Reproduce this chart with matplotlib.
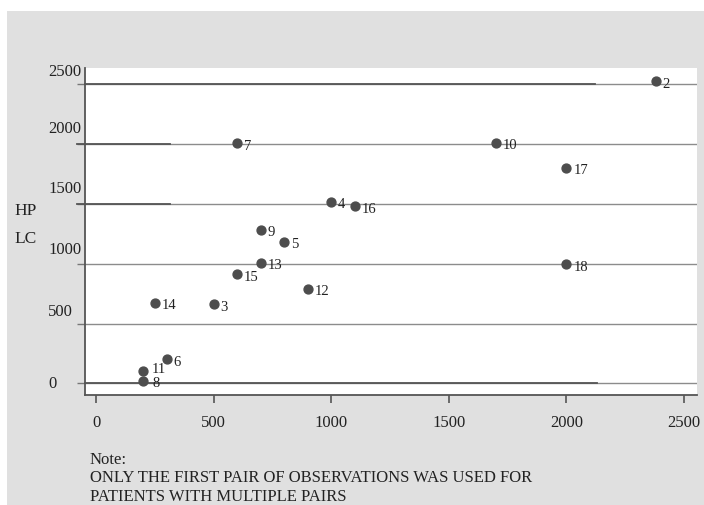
import matplotlib
matplotlib.use("Agg")
import matplotlib.pyplot as plt
import matplotlib.transforms as mtransforms
from matplotlib.patches import Rectangle

# данные: номер пациента, x, y
patients = ["2", "7", "10", "17", "4", "16", "9", "5", "13", "18", "15", "12", "14", "3", "6", "11", "8"]
x_vals = [2380, 600, 1700, 2000, 1000, 1100, 700, 800, 700, 2000, 600, 900, 250, 500, 300, 200, 200]
y_vals = [2525, 2005, 2010, 1800, 1517, 1478, 1285, 1183, 1008, 997, 911, 792, 673, 662, 205, 103, 25]

x_ticks = [0, 500, 1000, 1500, 2000, 2500]
y_ticks = [0, 500, 1000, 1500, 2000, 2500]
y_tick_labels = ["0", "500", "1000", "1500", "2000", "2500"]
# смещение подписей оси Y вверх (в пикселях), как в отсканированном оригинале
y_label_shift = [0, 13, 15, 16, 16, 13]

note_lines = ["Note:",
              "ONLY THE FIRST PAIR OF OBSERVATIONS WAS USED FOR",
              "PATIENTS WITH MULTIPLE PAIRS"]

plt.rcParams['font.family'] = ['Liberation Serif', 'DejaVu Serif']

W, H = 704, 506
fig = plt.figure(figsize=(W / 100, H / 100), dpi=100)
fig.patch.set_facecolor('white')
fig.patches.append(Rectangle((7 / W, 0), 1 - 7 / W, 1 - 12 / H, transform=fig.transFigure,
                             facecolor='#e0e0e0', edgecolor='none', zorder=-10))

ax = fig.add_axes([85 / W, 1 - 396 / H, (697 - 85) / W, (396 - 69) / H])
ax.set_facecolor('white')
ax.set_xlim(-47, 2555)
ax.set_ylim(-96, 2633)

# сетка
grid_color = '#8c8c8c'
for yv in y_ticks:
    ax.axhline(yv, color=grid_color, linewidth=1.0, zorder=1)
# более тёмные участки линий (артефакты скана)
dark = [(2500, 0.0, 0.833), (0, 0.0, 0.837), (2000, -0.013, 0.139), (1500, -0.013, 0.139)]
trans = mtransforms.blended_transform_factory(ax.transAxes, ax.transData)
for yv, x0, x1 in dark:
    ax.plot([x0, x1], [yv, yv], color='#555555', linewidth=1.3, transform=trans,
            clip_on=False, zorder=2)

ax.plot(x_vals, y_vals, 'o', color='#4d4d4d', markersize=6.4, zorder=3, linestyle='none')
for name, xv, yv in zip(patients, x_vals, y_vals):
    dx, dy = (5, -1.5)
    if name == "11":
        dx, dy = (6.5, 2.0)
    elif name == "8":
        dx, dy = (6.5, -1.5)
    ax.annotate(name, (xv, yv), xytext=(dx, dy), textcoords='offset points',
                fontsize=10.5, color='#222222', va='center', ha='left', zorder=4)

for side in ['top', 'right']:
    ax.spines[side].set_visible(False)
for side in ['left', 'bottom']:
    ax.spines[side].set_color('#555555')
    ax.spines[side].set_linewidth(1.3)

ax.set_xticks(x_ticks)
ax.set_xticklabels([str(t) for t in x_ticks], fontsize=12, color='#222222')
ax.tick_params(axis='x', direction='out', length=6, width=1.2, color='#555555', pad=8)

ax.set_yticks(y_ticks)
ax.set_yticklabels([])
ax.tick_params(axis='y', direction='out', length=6, width=1.0, color='#777777')

# подписи оси Y
ytrans = mtransforms.blended_transform_factory(fig.transFigure, ax.transData)
for yv, lab, dy in zip(y_ticks, y_tick_labels, y_label_shift):
    off = mtransforms.ScaledTranslation(0, dy / 100, fig.dpi_scale_trans)
    ax.text(48 / W, yv, lab, transform=ytrans + off, fontsize=12, color='#222222',
            ha='left', va='center', clip_on=False)

fig.text(14 / W, 1 - 211 / H, "HP", fontsize=12.5, color='#222222', va='center', ha='left')
fig.text(14 / W, 1 - 239 / H, "LC", fontsize=12.5, color='#222222', va='center', ha='left')

for i, line in enumerate(note_lines):
    fig.text(90 / W, 1 - (460 + i * 18.5) / H, line, fontsize=12, color='#222222',
             va='center', ha='left')

fig.savefig("out.png", dpi=100)
